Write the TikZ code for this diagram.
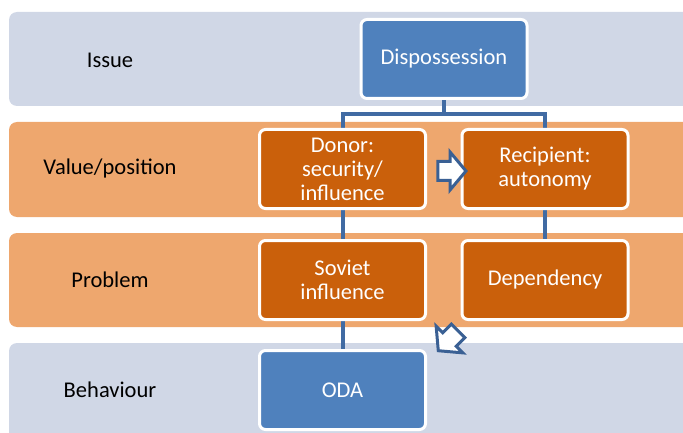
\documentclass[tikz,border=0pt]{standalone}
\usepackage{fontspec}
\setmainfont{Carlito}
\usetikzlibrary{shapes.arrows,backgrounds}

\definecolor{bandblue}{HTML}{D0D7E6}
\definecolor{bandorange}{HTML}{EEA76E}
\definecolor{boxorange}{HTML}{CA600B}
\definecolor{boxblue}{HTML}{4F81BD}
\definecolor{linkblue}{HTML}{416BA3}
\definecolor{arrowblue}{HTML}{3A6094}

\begin{document}
\begin{tikzpicture}[x=1pt,y=-1pt,
        every node/.style={font=\fontsize{22.5}{24}\selectfont},
        box/.style={draw=white,line width=3pt,rounded corners=6pt,
            minimum width=166pt,minimum height=79pt,text=white,align=center,inner sep=2pt},
        link/.style={draw=linkblue,line width=4pt},
        hollow/.style={single arrow,draw=arrowblue,fill=white,line width=3pt,
            minimum height=28pt,minimum width=35pt,single arrow head extend=9.5pt,
            single arrow tip angle=100,inner xsep=0pt,inner ysep=8pt}]
        \useasboundingbox (0,0) rectangle (683,433);
        \clip (0,0) rectangle (683,433);

        % bands
        \begin{scope}[on background layer,every path/.style={rounded corners=8pt}]
            \fill[bandblue] (9,12) rectangle (720,106);
            \fill[bandorange] (9,122) rectangle (720,217);
            \fill[bandorange] (9,233) rectangle (720,327);
            \fill[bandblue] (9,343) rectangle (720,470);
        \end{scope}

        % row labels
        \node (issue) at (110,60) {Issue};
        \node (value) at (110,169) {Value/position};
        \node (problem) at (110,280) {Problem};
        \node (behaviour) at (110,390) {Behaviour};

        % boxes
        \begin{scope}[every node/.append style={box}]
            \node[fill=boxblue] (disp) at (444,59) {Dispossession};

            \node[fill=boxorange] (donor) at (342.5,169) {Donor:\\security/\\influence};
            \node[fill=boxorange] (recip) at (545,169) {Recipient:\\autonomy};

            \node[fill=boxorange] (soviet) at (342.5,280) {Soviet\\influence};
            \node[fill=boxorange] (dep) at (545,280) {Dependency};

            \node[fill=boxblue] (oda) at (342.5,390) {ODA};
        \end{scope}

        % connectors
        \coordinate (split) at (444,114);
        \begin{scope}[on background layer]
            \path[link] (disp) -- (split);
            \path[link] (split) -| (donor);
            \path[link] (split) -| (recip);
            \path[link] (donor) -- (soviet);
            \path[link] (recip) -- (dep);
            \path[link] (soviet) -- (oda);
        \end{scope}

        % hollow arrows
        \node[hollow] (shift) at (448,171) {};
        \node[hollow,rotate=225] (toward) at (451,338) {};
    \end{tikzpicture}
\end{document}
